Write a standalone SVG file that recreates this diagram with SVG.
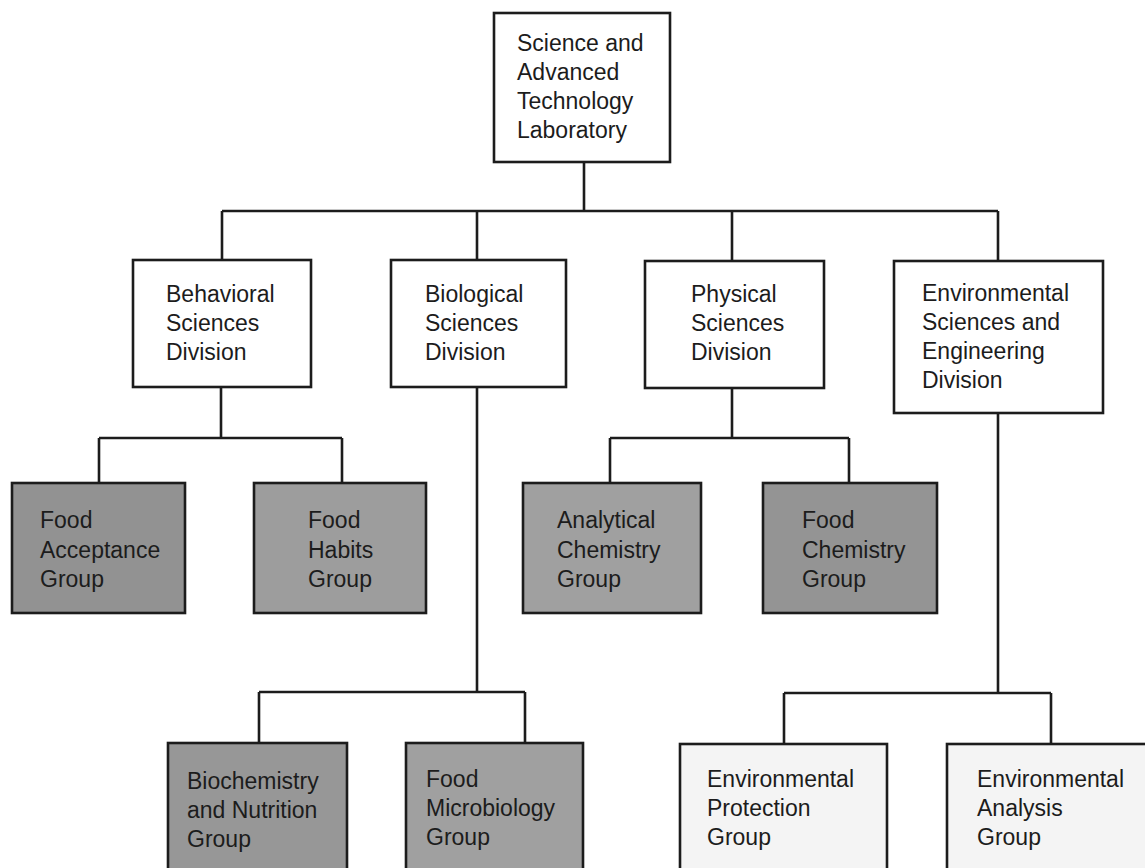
<svg xmlns="http://www.w3.org/2000/svg" width="1145" height="868" viewBox="0 0 1145 868">
<style>
.box{stroke:#1c1c1c;stroke-width:2.6}
.white{fill:#ffffff}
.pale{fill:#f4f4f4}
.gray{fill:#999999}
.lbl{font-family:"Liberation Sans",Arial,sans-serif;font-size:23px;fill:#1c1c1c}
.conn{fill:none;stroke:#1c1c1c;stroke-width:2.6;stroke-linejoin:miter}
</style>
<rect width="1145" height="868" fill="#ffffff"/>
<g id="connectors">
<path class="conn" d="M584,162 V211 M222,211 H998 M222,211 V260 M477,211 V260 M732,211 V260 M998,211 V261"/>
<path class="conn" d="M221,387 V438 M99,438 H342 M99,438 V483 M342,438 V483"/>
<path class="conn" d="M477,387 V692 M259,692 H525 M259,692 V743 M525,692 V743"/>
<path class="conn" d="M732,387 V438 M610,438 H849 M610,438 V483 M849,438 V483"/>
<path class="conn" d="M998,413 V693 M784,693 H1051 M784,693 V744 M1051,693 V744"/>
</g>
<g id="lab">
<rect class="box white" x="494" y="13" width="176" height="149"/>
<text class="lbl" x="517" y="51">Science and</text>
<text class="lbl" x="517" y="80">Advanced</text>
<text class="lbl" x="517" y="109">Technology</text>
<text class="lbl" x="517" y="138">Laboratory</text>
</g>
<g id="behavioral">
<rect class="box white" x="133" y="260" width="178" height="127"/>
<text class="lbl" x="166" y="302">Behavioral</text>
<text class="lbl" x="166" y="331">Sciences</text>
<text class="lbl" x="166" y="360">Division</text>
</g>
<g id="biological">
<rect class="box white" x="391" y="260" width="175" height="127"/>
<text class="lbl" x="425" y="302">Biological</text>
<text class="lbl" x="425" y="331">Sciences</text>
<text class="lbl" x="425" y="360">Division</text>
</g>
<g id="physical">
<rect class="box white" x="645" y="261" width="179" height="127"/>
<text class="lbl" x="691" y="302">Physical</text>
<text class="lbl" x="691" y="331">Sciences</text>
<text class="lbl" x="691" y="360">Division</text>
</g>
<g id="environmental">
<rect class="box white" x="894" y="261" width="209" height="152"/>
<text class="lbl" x="922" y="301">Environmental</text>
<text class="lbl" x="922" y="330">Sciences and</text>
<text class="lbl" x="922" y="359">Engineering</text>
<text class="lbl" x="922" y="388">Division</text>
</g>
<g id="food-acceptance">
<rect class="box gray" x="12" y="483" width="173" height="130" style="fill:#929292"/>
<text class="lbl" x="40" y="528">Food</text>
<text class="lbl" x="40" y="558">Acceptance</text>
<text class="lbl" x="40" y="587">Group</text>
</g>
<g id="food-habits">
<rect class="box gray" x="254" y="483" width="172" height="130" style="fill:#9d9d9d"/>
<text class="lbl" x="308" y="528">Food</text>
<text class="lbl" x="308" y="558">Habits</text>
<text class="lbl" x="308" y="587">Group</text>
</g>
<g id="analytical-chemistry">
<rect class="box gray" x="523" y="483" width="178" height="130" style="fill:#a0a0a0"/>
<text class="lbl" x="557" y="528">Analytical</text>
<text class="lbl" x="557" y="558">Chemistry</text>
<text class="lbl" x="557" y="587">Group</text>
</g>
<g id="food-chemistry">
<rect class="box gray" x="763" y="483" width="174" height="130" style="fill:#949494"/>
<text class="lbl" x="802" y="528">Food</text>
<text class="lbl" x="802" y="558">Chemistry</text>
<text class="lbl" x="802" y="587">Group</text>
</g>
<g id="biochemistry-nutrition">
<rect class="box gray" x="168" y="743" width="179" height="140" style="fill:#979797"/>
<text class="lbl" x="187" y="789">Biochemistry</text>
<text class="lbl" x="187" y="818">and Nutrition</text>
<text class="lbl" x="187" y="847">Group</text>
</g>
<g id="food-microbiology">
<rect class="box gray" x="406" y="743" width="177" height="140" style="fill:#a0a0a0"/>
<text class="lbl" x="426" y="787">Food</text>
<text class="lbl" x="426" y="816">Microbiology</text>
<text class="lbl" x="426" y="845">Group</text>
</g>
<g id="environmental-protection">
<rect class="box pale" x="680" y="744" width="207" height="140"/>
<text class="lbl" x="707" y="787">Environmental</text>
<text class="lbl" x="707" y="816">Protection</text>
<text class="lbl" x="707" y="845">Group</text>
</g>
<g id="environmental-analysis">
<rect class="box pale" x="947" y="744" width="220" height="140"/>
<text class="lbl" x="977" y="787">Environmental</text>
<text class="lbl" x="977" y="816">Analysis</text>
<text class="lbl" x="977" y="845">Group</text>
</g>
</svg>
